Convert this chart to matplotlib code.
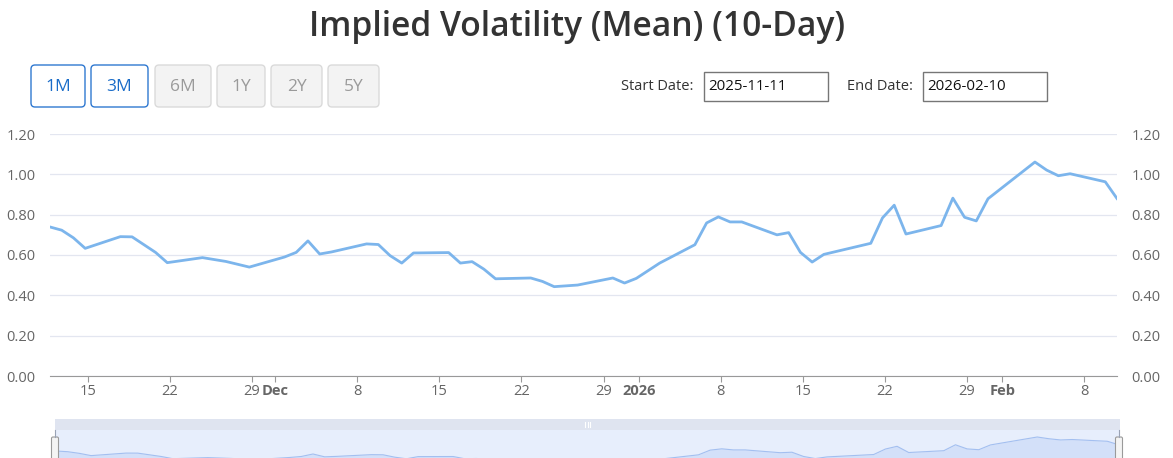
import pandas as pd
import matplotlib.pyplot as plt
from matplotlib.patches import FancyBboxPatch, Rectangle

plt.rcParams['font.family'] = ['Open Sans', 'DejaVu Sans']

# Data: daily points at midnight UTC (chart shows them in US Eastern time)
dates = ['2025-11-12', '2025-11-13', '2025-11-14', '2025-11-15', '2025-11-18', '2025-11-19',
         '2025-11-21', '2025-11-22', '2025-11-25', '2025-11-27', '2025-11-29', '2025-12-02',
         '2025-12-03', '2025-12-04', '2025-12-05', '2025-12-06', '2025-12-09', '2025-12-10',
         '2025-12-11', '2025-12-12', '2025-12-13', '2025-12-16', '2025-12-17', '2025-12-18',
         '2025-12-19', '2025-12-20', '2025-12-23', '2025-12-24', '2025-12-25', '2025-12-27',
         '2025-12-30', '2025-12-31', '2026-01-01', '2026-01-03', '2026-01-06', '2026-01-07',
         '2026-01-08', '2026-01-09', '2026-01-10', '2026-01-13', '2026-01-14', '2026-01-15',
         '2026-01-16', '2026-01-17', '2026-01-21', '2026-01-22', '2026-01-23', '2026-01-24',
         '2026-01-27', '2026-01-28', '2026-01-29', '2026-01-30', '2026-01-31', '2026-02-04',
         '2026-02-05', '2026-02-06', '2026-02-07', '2026-02-10', '2026-02-11']
iv_mean = [0.739, 0.723, 0.685, 0.633, 0.691, 0.690,
           0.613, 0.562, 0.587, 0.568, 0.540, 0.590,
           0.613, 0.670, 0.605, 0.615, 0.655, 0.652,
           0.597, 0.560, 0.610, 0.612, 0.560, 0.567,
           0.530, 0.482, 0.486, 0.469, 0.443, 0.451,
           0.486, 0.461, 0.484, 0.560, 0.651, 0.759,
           0.789, 0.764, 0.764, 0.700, 0.711, 0.613,
           0.565, 0.603, 0.658, 0.784, 0.847, 0.704,
           0.746, 0.882, 0.787, 0.769, 0.879, 1.061,
           1.021, 0.993, 1.003, 0.963, 0.880]

x_ticks = ['2025-11-15', '2025-11-22', '2025-11-29', '2025-12-01', '2025-12-08', '2025-12-15',
           '2025-12-22', '2025-12-29', '2026-01-01', '2026-01-08', '2026-01-15', '2026-01-22',
           '2026-01-29', '2026-02-01', '2026-02-08']
x_tick_labels = ['15', '22', '29', 'Dec', '8', '15', '22', '29', '2026', '8', '15', '22', '29', 'Feb', '8']
y_ticks = [0.0, 0.2, 0.4, 0.6, 0.8, 1.0, 1.2]

title = 'Implied Volatility (Mean) (10-Day)'
range_buttons = ['1M', '3M', '6M', '1Y', '2Y', '5Y']
active_buttons = ['1M', '3M']
start_date = '2025-11-11'
end_date = '2026-02-10'

W, H = 1173, 458


def frame(x0, y0, x1, y1):
    # pixel box (top-left origin) -> figure fraction rect
    return [x0 / W, 1 - y1 / H, (x1 - x0) / W, (y1 - y0) / H]


x = pd.to_datetime(dates) - pd.Timedelta(hours=5)
ticks = pd.to_datetime(x_ticks)

fig = plt.figure(figsize=(W / 100, H / 100), dpi=100)

# overlay in pixel units for the page furniture
ui = fig.add_axes([0, 0, 1, 1], zorder=-1)
ui.set_xlim(0, W)
ui.set_ylim(H, 0)
ui.axis('off')

ui.text(577, 27, title, ha='center', va='center', fontsize=24.2, weight='semibold', color='#333333')

# range selector buttons
btn_boxes = [(31, 65, 85, 107), (91, 65, 148, 107), (155, 65, 211, 107),
             (217, 65, 265, 107), (271, 65, 322, 107), (328, 65, 379, 107)]
for label, (x0, y0, x1, y1) in zip(range_buttons, btn_boxes):
    if label in active_buttons:
        fc, ec, tc = 'white', '#2f78d0', '#1a6cc8'
    else:
        fc, ec, tc = '#f3f3f3', '#dadada', '#9a9a9a'
    ui.add_patch(FancyBboxPatch((x0, y0), x1 - x0, y1 - y0,
                                boxstyle='round,pad=0,rounding_size=4',
                                fc=fc, ec=ec, lw=1))
    ui.text((x0 + x1) / 2, (y0 + y1) / 2 + 1, label, ha='center', va='center',
            fontsize=12.5, color=tc)

# date inputs
for lab, val, lx, bx0, bx1 in [('Start Date:', start_date, 621, 704, 828),
                                ('End Date:', end_date, 847, 923, 1047)]:
    ui.text(lx, 87, lab, ha='left', va='center', fontsize=10.5, color='#333333')
    ui.add_patch(Rectangle((bx0, 72), bx1 - bx0, 29, fc='white', ec='#767676', lw=1))
    ui.text(bx0 + 4, 87, val, ha='left', va='center', fontsize=10.8, color='#111111')

# navigator scrollbar strip
ui.add_patch(Rectangle((55, 419), 1065, 11, fc='#dfe4f0', ec='none'))
for gx in (585, 587.5, 590):
    ui.plot([gx, gx], [422, 427], color='#ffffff', lw=0.8)

# main chart
ax = fig.add_axes(frame(50, 134, 1117, 376))
ax.plot(x, iv_mean, color='#7cb5ec', lw=2.0, zorder=3, solid_joinstyle='round')
ax.set_xlim(x.min(), x.max())
ax.set_ylim(0, 1.2)
ax.set_yticks(y_ticks)
ax.set_yticklabels([f'{v:.2f}' for v in y_ticks])
ax.yaxis.grid(True, color='#e3e6f0', lw=0.9)
ax.set_axisbelow(True)
ax.tick_params(axis='y', left=False, right=False, labelleft=True, labelright=True,
               pad=7, labelsize=10.5, labelcolor='#666666')
ax.set_xticks(ticks)
ax.set_xticklabels(x_tick_labels)
ax.tick_params(axis='x', length=4.5, width=0.8, color='#999999', pad=1.5,
               labelsize=10.5, labelcolor='#666666')
for lbl in ax.get_xticklabels():
    if not lbl.get_text().isdigit() or len(lbl.get_text()) == 4:
        lbl.set_fontweight('bold')
for s in ('top', 'left', 'right'):
    ax.spines[s].set_visible(False)
ax.spines['bottom'].set_color('#999999')
ax.spines['bottom'].set_linewidth(0.8)

# navigator
nav = fig.add_axes(frame(56, 430, 1119, 458))
nav.set_facecolor('#e7eefc')
nav.fill_between(x, iv_mean, 0, color='#d3e0f9', lw=0)
nav.plot(x, iv_mean, color='#a3bff0', lw=0.8)
nav.set_xlim(x.min(), x.max())
nav.set_ylim(0.578, 1.222)
nav.axis('off')
nav.add_patch(Rectangle((0, 0), 1, 1, transform=nav.transAxes, fc='#e7eefc', ec='none', zorder=-1))

handle_ax = fig.add_axes([0, 0, 1, 1], zorder=5)
handle_ax.set_xlim(0, W)
handle_ax.set_ylim(H, 0)
handle_ax.axis('off')
for hx in (55, 1119):
    handle_ax.add_patch(FancyBboxPatch((hx - 3.5, 437), 7, 24,
                                       boxstyle='round,pad=0,rounding_size=1.5',
                                       fc='#f4f4f4', ec='#9a9a9a', lw=0.8))
    handle_ax.plot([hx, hx], [430, 437], color='#9aa3b5', lw=0.8)

fig.savefig('out.png', dpi=100)
plt.close(fig)
